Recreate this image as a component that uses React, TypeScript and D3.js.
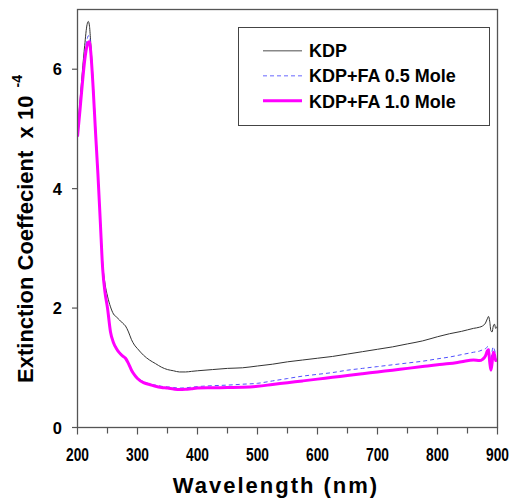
import React from "react";
import * as d3 from "d3";

const wavelengths = [200,204,208,212,216,218,220,222,226,230,234,238,242,246,250,255,260,265,270,275,280,285,290,295,300,310,320,330,340,350,360,370,380,390,400,425,450,475,500,525,550,575,600,625,650,675,700,725,750,775,800,820,840,860,870,875,880,883,885,887,889,891,893,895,897,900];

const kdp = [4.95,5.45,5.95,6.4,6.75,6.8,6.72,6.45,5.8,5.05,4.3,3.5,2.75,2.4,2.2,2.02,1.9,1.85,1.8,1.75,1.7,1.6,1.47,1.38,1.32,1.21,1.13,1.07,1.01,0.97,0.95,0.93,0.93,0.94,0.95,0.97,0.99,1.0,1.03,1.06,1.1,1.13,1.16,1.19,1.23,1.27,1.31,1.35,1.4,1.45,1.52,1.57,1.61,1.66,1.68,1.7,1.75,1.82,1.86,1.78,1.62,1.6,1.7,1.73,1.66,1.7];

const kdpFa05 = [4.88,5.35,5.82,6.25,6.5,6.56,6.55,6.38,5.75,5.0,4.28,3.48,2.68,2.27,2.02,1.62,1.44,1.34,1.27,1.22,1.16,1.06,0.96,0.88,0.83,0.77,0.73,0.71,0.69,0.68,0.67,0.66,0.665,0.675,0.685,0.7,0.71,0.725,0.74,0.78,0.82,0.86,0.89,0.92,0.96,0.99,1.02,1.05,1.08,1.11,1.15,1.18,1.22,1.26,1.28,1.3,1.32,1.35,1.36,1.2,1.12,1.28,1.35,1.3,1.24,1.25];

const kdpFa10 = [4.87,5.3,5.75,6.15,6.4,6.45,6.46,6.3,5.7,4.95,4.25,3.45,2.65,2.25,2.0,1.6,1.42,1.32,1.25,1.2,1.16,1.07,0.96,0.88,0.82,0.75,0.72,0.69,0.67,0.66,0.645,0.635,0.64,0.65,0.66,0.665,0.67,0.675,0.69,0.72,0.75,0.78,0.81,0.84,0.87,0.9,0.93,0.96,0.99,1.02,1.05,1.07,1.1,1.13,1.12,1.14,1.2,1.28,1.3,1.1,0.96,1.08,1.26,1.22,1.12,1.15];

const xTicks = [200,300,400,500,600,700,800,900];
const xMinorTicks = [250,350,450,550,650,750,850];
const yTicks = [0,2,4,6];
const legendLabels = ["KDP","KDP+FA 0.5 Mole","KDP+FA 1.0 Mole"];

export default function App() {
  const left = 77.5, right = 497.5, top = 9.5, bottom = 427.5;
  const x = d3.scaleLinear().domain([200, 900]).range([left, right]);
  const y = d3.scaleLinear().domain([0, 7]).range([bottom, top]);
  const line = (vals: number[]) =>
    d3.line<number>().x((_, i) => x(wavelengths[i])).y((d) => y(d)).curve(d3.curveMonotoneX)(vals) || "";
  const font = "Arial, 'Liberation Sans', sans-serif";
  const styles = [
    { stroke: "#333", width: 1, dash: "", lstroke: "#888", lwidth: 1.5 },
    { stroke: "#5050ff", width: 1, dash: "4,3", lstroke: "#9a9aff", lwidth: 1.5 },
    { stroke: "#ff00ff", width: 3, dash: "", lstroke: "#ff00ff", lwidth: 3 },
  ];
  const series = [kdp, kdpFa05, kdpFa10];
  return (
    <svg width={512} height={501} style={{ position: "absolute", left: 0, top: 0, background: "#fff" }} fontFamily={font}>
      <defs>
        <clipPath id="plot">
          <rect x={left} y={top} width={right - left} height={bottom - top} />
        </clipPath>
      </defs>
      <g clipPath="url(#plot)">
        {series.map((s, i) => (
          <path key={i} d={line(s)} fill="none" stroke={styles[i].stroke} strokeWidth={styles[i].width} strokeDasharray={styles[i].dash} strokeLinejoin="round" />
        ))}
      </g>
      <rect x={left} y={top} width={right - left} height={bottom - top} fill="none" stroke="#555" strokeWidth={1.3} />
      {xTicks.map((t) => (
        <g key={t}>
          <line x1={x(t)} x2={x(t)} y1={bottom} y2={bottom + 7} stroke="#555" strokeWidth={1.2} />
          <text x={x(t)} y={461} textAnchor="middle" fontSize={19} fontWeight="bold" textLength={23} lengthAdjust="spacingAndGlyphs">{t}</text>
        </g>
      ))}
      {xMinorTicks.map((t) => (
        <line key={t} x1={x(t)} x2={x(t)} y1={bottom} y2={bottom + 6} stroke="#555" strokeWidth={1.2} />
      ))}
      {yTicks.map((t) => (
        <g key={t}>
          <line x1={left - 5.5} x2={left} y1={y(t)} y2={y(t)} stroke="#555" strokeWidth={1.2} />
          <text x={62} y={y(t) + 6} textAnchor="end" fontSize={16.5} fontWeight="bold">{t}</text>
        </g>
      ))}
      <text x={276} y={493} textAnchor="middle" fontSize={22} fontWeight="bold" letterSpacing={2}>Wavelength (nm)</text>
      <text transform="translate(33,229) rotate(-90)" textAnchor="middle" fontSize={22} fontWeight="bold" style={{ whiteSpace: "pre" }}>
        {"Extinction Coeffecient  x 10 "}<tspan fontSize={14} dy={-11} dx={2}>-4</tspan>
      </text>
      <rect x={238.5} y={27.5} width={251} height={98} fill="#fff" stroke="#444" strokeWidth={1} />
      {legendLabels.map((lab, i) => (
        <g key={lab}>
          <line x1={263} x2={302} y1={50.7 + i * 25} y2={50.7 + i * 25} stroke={styles[i].lstroke} strokeWidth={styles[i].lwidth} strokeDasharray={styles[i].dash} />
          <text x={309} y={57 + i * 25.3} fontSize={18} fontWeight="bold">{lab}</text>
        </g>
      ))}
    </svg>
  );
}
